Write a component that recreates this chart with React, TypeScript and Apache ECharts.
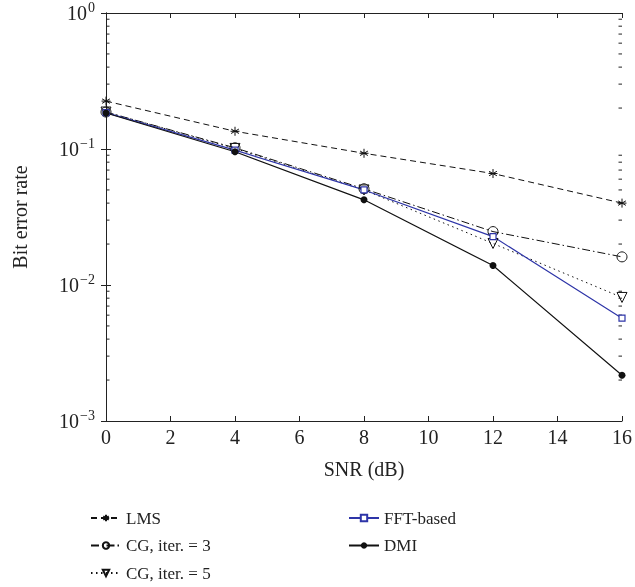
import React, { useEffect, useRef } from "react";
import * as echarts from "echarts";

const snr = [0, 4, 8, 12, 16];
const lms = [0.225, 0.135, 0.093, 0.066, 0.04];
const cg3 = [0.187, 0.102, 0.051, 0.0247, 0.0161];
const cg5 = [0.187, 0.101, 0.05, 0.0202, 0.0081];
const fft = [0.185, 0.098, 0.05, 0.0227, 0.0057];
const dmi = [0.184, 0.0955, 0.0423, 0.0139, 0.00217];
const names = ["LMS", "CG, iter. = 3", "CG, iter. = 5", "FFT-based", "DMI"];
const minorValues: number[] = [];
[0.001, 0.01, 0.1].forEach((d) => {
  for (let m = 2; m <= 9; m++) minorValues.push(d * m);
});

const FONT = "'Liberation Serif', 'Times New Roman', serif";
const STAR = "path://M0,-5L0,5M-4.33,-2.5L4.33,2.5M-4.33,2.5L4.33,-2.5M-5,0L5,0";
const TRI_DOWN = "path://M0,0L10,0L5,9Z";

export default function App() {
  const ref = useRef<HTMLDivElement>(null);
  useEffect(() => {
    if (!ref.current) return;
    const chart = echarts.init(ref.current, undefined, { renderer: "svg" });
    const pair = (arr: number[]) => snr.map((x, i) => [x, arr[i]]);
    const axisLine = { show: true, lineStyle: { color: "#222", width: 1 } };
    const tick = { show: true, inside: true, length: 5, lineStyle: { color: "#222" } };
    const legendText = { fontFamily: FONT, fontSize: 17, color: "#222", lineHeight: 20 };
    chart.setOption({
      animation: false,
      grid: { left: 106, right: 9, top: 12, bottom: 166 },
      legend: [
        {
          data: names.slice(0, 3),
          orient: "vertical",
          left: 85,
          top: 503,
          height: 100,
          itemWidth: 30,
          itemHeight: 8,
          itemGap: 7.5,
          textStyle: legendText,
        },
        {
          data: names.slice(3),
          orient: "vertical",
          left: 343,
          top: 503,
          height: 100,
          itemWidth: 30,
          itemHeight: 8,
          itemGap: 7.5,
          textStyle: legendText,
        },
      ],
      xAxis: [
        {
          type: "value",
          min: 0,
          max: 16,
          interval: 2,
          name: "SNR (dB)",
          nameLocation: "middle",
          nameGap: 38,
          nameTextStyle: { fontFamily: FONT, fontSize: 20, color: "#222" },
          axisLine,
          axisTick: tick,
          axisLabel: { fontFamily: FONT, fontSize: 20, color: "#222", margin: 6 },
          splitLine: { show: false },
        },
        {
          type: "value",
          position: "top",
          min: 0,
          max: 16,
          interval: 2,
          axisLine,
          axisTick: tick,
          axisLabel: { show: false },
          splitLine: { show: false },
        },
      ],
      yAxis: [
        {
          type: "log",
          logBase: 10,
          min: 0.001,
          max: 1,
          name: "Bit error rate",
          nameLocation: "middle",
          nameGap: 76,
          nameTextStyle: { fontFamily: FONT, fontSize: 20, color: "#222" },
          axisLine,
          axisTick: tick,
          axisLabel: {
            margin: 11,
            formatter: (v: number) => {
              const e = Math.round(Math.log10(v));
              return "{b|10}{s|" + (e < 0 ? "\u2212" + -e : String(e)) + "}";
            },
            rich: {
              b: { fontFamily: FONT, fontSize: 20, color: "#222" },
              s: { fontFamily: FONT, fontSize: 14, color: "#222", padding: [0, 0, 12, 1] },
            },
          },
          splitLine: { show: false },
        },
        {
          type: "log",
          logBase: 10,
          min: 0.001,
          max: 1,
          position: "right",
          axisLine,
          axisTick: tick,
          axisLabel: { show: false },
          splitLine: { show: false },
        },
      ],
      series: [
        {
          type: "custom",
          silent: true,
          clip: false,
          data: minorValues.map((v) => [0, v]),
          renderItem: (params: any, api: any) => {
            const v = api.value(1);
            const p0 = api.coord([0, v]);
            const p1 = api.coord([16, v]);
            const st = { stroke: "#222", lineWidth: 1 };
            return {
              type: "group",
              children: [
                { type: "line", shape: { x1: p0[0], y1: p0[1], x2: p0[0] + 3.5, y2: p0[1] }, style: st },
                { type: "line", shape: { x1: p1[0], y1: p1[1], x2: p1[0] - 3.5, y2: p1[1] }, style: st },
              ],
            };
          },
        },
        {
          name: names[0],
          type: "line",
          data: pair(lms),
          symbol: STAR,
          symbolSize: 9,
          lineStyle: { color: "#111", width: 1, type: [6, 4] },
          itemStyle: { color: "#111", borderColor: "#111", borderWidth: 1 },
        },
        {
          name: names[1],
          type: "line",
          data: pair(cg3),
          symbol: "circle",
          symbolSize: 10,
          lineStyle: { color: "#111", width: 1, type: [8, 3, 1.5, 3] },
          itemStyle: { color: "rgba(255,255,255,0)", borderColor: "#111", borderWidth: 1 },
        },
        {
          name: names[2],
          type: "line",
          data: pair(cg5),
          symbol: TRI_DOWN,
          symbolSize: 10,
          lineStyle: { color: "#111", width: 1, type: [1.5, 3.5] },
          itemStyle: { color: "rgba(255,255,255,0)", borderColor: "#111", borderWidth: 1 },
        },
        {
          name: names[3],
          type: "line",
          data: pair(fft),
          symbol: "rect",
          symbolSize: 6,
          lineStyle: { color: "#2e35a8", width: 1.2 },
          itemStyle: { color: "#fff", borderColor: "#2e35a8", borderWidth: 1.2 },
        },
        {
          name: names[4],
          type: "line",
          data: pair(dmi),
          symbol: "circle",
          symbolSize: 7,
          lineStyle: { color: "#111", width: 1.2 },
          itemStyle: { color: "#111" },
        },
      ],
    });
    return () => chart.dispose();
  }, []);
  return (
    <div
      ref={ref}
      style={{ position: "fixed", left: 0, top: 0, width: 635, height: 587 }}
    />
  );
}
